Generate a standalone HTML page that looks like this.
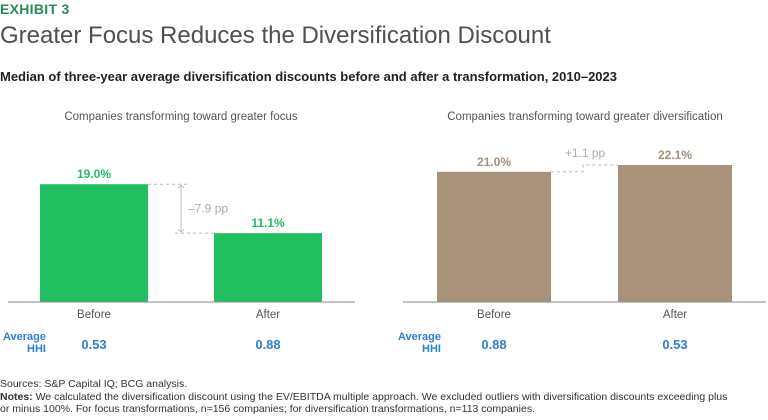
<!DOCTYPE html>
<html><head><meta charset="utf-8"><style>
body{margin:0;width:768px;height:420px;background:#fff;font-family:"Liberation Sans",sans-serif;overflow:hidden;position:relative}
.t{position:absolute;white-space:nowrap}
</style></head><body>
<div class="t" style="left:0;top:1px;font-size:14px;font-weight:bold;color:#2a8a5c;letter-spacing:0.3px">EXHIBIT 3</div>
<div class="t" style="left:0;top:22px;font-size:24px;color:#505050">Greater Focus Reduces the Diversification Discount</div>
<div class="t" style="left:0;top:69px;font-size:13px;font-weight:bold;color:#222">Median of three-year average diversification discounts before and after a transformation, 2010–2023</div>
<svg id="c" width="768" height="380" style="position:absolute;left:0;top:0" font-family="Liberation Sans, sans-serif"></svg>
<div class="t" style="left:0;top:378px;font-size:10.5px;color:#333;line-height:12.5px">Sources: S&amp;P Capital IQ; BCG analysis.<br><b>Notes:</b> We calculated the diversification discount using the EV/EBITDA multiple approach. We excluded outliers with diversification discounts exceeding plus<br>or minus 100%. For focus transformations, n=156 companies; for diversification transformations, n=113 companies.</div>
<script>
const categories=["Before","After"];
const focusValues=[19.0,11.1];
const diversValues=[21.0,22.1];
const focusHHI=["0.53","0.88"];
const diversHHI=["0.88","0.53"];
const panelTitles=["Companies transforming toward greater focus","Companies transforming toward greater diversification"];
const deltas=["–7.9 pp","+1.1 pp"];
const svg=document.getElementById('c');const NS="http://www.w3.org/2000/svg";
const base=302,scale=6.2;const y=v=>base-v*scale;
function mk(tag,a,txt){const e=document.createElementNS(NS,tag);for(const k in a)e.setAttribute(k,a[k]);if(txt!=null)e.textContent=txt;svg.appendChild(e);return e;}
const panels=[{vals:focusValues,hhi:focusHHI,color:"#22bf60",lab:"#22bf60",ax:[8,355],bx:[40,214],bw:108,tx:181,hx:[0,46]},
{vals:diversValues,hhi:diversHHI,color:"#a8927a",lab:"#a8927a",ax:[403,766],bx:[437,618],bw:114,tx:585,hx:[395,441]}];
panels.forEach((p,pi)=>{
 let e=mk('text',{x:p.tx,y:120,'text-anchor':'middle','font-size':11.5,fill:'#555'},panelTitles[pi]);
 
 p.vals.forEach((v,i)=>{
  const x=p.bx[i];
  e=mk('rect',{x:x,y:y(v),width:p.bw,height:v*scale,fill:p.color});
  
  e=mk('text',{x:x+p.bw/2,y:y(v)-6,'text-anchor':'middle','font-size':12,'font-weight':'bold',fill:p.lab},v.toFixed(1)+'%');
  
  e=mk('text',{x:x+p.bw/2,y:318,'text-anchor':'middle','font-size':11.5,fill:'#555'},categories[i]);
  
  e=mk('text',{x:x+p.bw/2,y:349,'text-anchor':'middle','font-size':13,'font-weight':'bold',fill:'#2f7fd0'},p.hhi[i]);
  
 });
 e=mk('line',{x1:p.ax[0],x2:p.ax[1],y1:base,y2:base,stroke:'#888','stroke-width':1});
 
 e=mk('text',{x:p.hx[1],y:340,'text-anchor':'end','font-size':11,'font-weight':'bold',fill:'#2f7fd0'},'Average');
 
 mk('text',{x:p.hx[1],y:352,'text-anchor':'end','font-size':11,'font-weight':'bold',fill:'#2f7fd0'},'HHI');
 const x1=p.bx[0]+p.bw,x2=p.bx[1],y1=y(p.vals[0]),y2=y(p.vals[1]);
 if(pi===0){
  const ax=181;
  mk('path',{d:`M${x1} ${y1}H${ax+6}M${ax-6} ${y2}H${x2}`,stroke:'#bbb','stroke-dasharray':'3,3',fill:'none'});
  mk('path',{d:`M${ax} ${y1+1}V${y2-1}M${ax-3} ${y1+4}L${ax} ${y1+1}L${ax+3} ${y1+4}M${ax-3} ${y2-4}L${ax} ${y2-1}L${ax+3} ${y2-4}`,stroke:'#bbb',fill:'none'});
  e=mk('text',{x:ax+7,y:(y1+y2)/2+4,'font-size':12,fill:'#aaa'},deltas[0]);
  
 }else{
  const ax=583;
  mk('path',{d:`M${x1} ${y1}H${ax}V${y2}H${x2}`,stroke:'#bbb','stroke-dasharray':'3,3',fill:'none'});
  e=mk('text',{x:ax+2,y:y2-8,'text-anchor':'middle','font-size':12,fill:'#aaa'},deltas[1]);
  
 }
});
</script>
</body></html>
